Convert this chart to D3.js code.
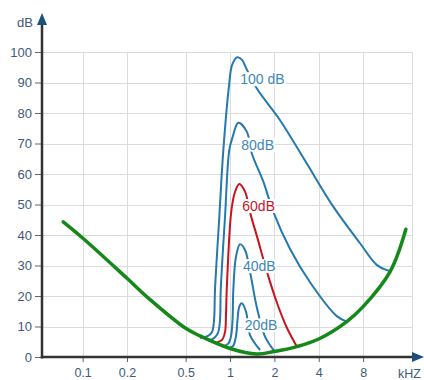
<!DOCTYPE html>
<html>
<head>
<meta charset="utf-8">
<script src="https://cdn.jsdelivr.net/npm/d3@7"></script>
<style>
  html, body { margin: 0; padding: 0; background: #fff; }
  svg { display: block; font-family: Arial, "Liberation Sans", sans-serif; }
</style>
</head>
<body>
<svg id="chart" width="424" height="380"></svg>
<script>
// Frequency axis (kHz, log) and level axis (dB)
const freqTicks = [0.1, 0.2, 0.5, 1, 2, 4, 8];
const freqTickLabels = ["0.1", "0.2", "0.5", "1", "2", "4", "8"];
const dbTicks = [0, 10, 20, 30, 40, 50, 60, 70, 80, 90, 100];
const freqDomain = [0.053, 17.17];
const dbDomain = [0, 100];

// Threshold of hearing in quiet: [kHz, dB]
const thresholdCurve = [
  [0.0738, 44.3], [0.1, 39], [0.2, 25.8], [0.287, 18.8], [0.5, 9.4],
  [0.626, 6.9], [1.0, 2.8], [1.52, 1.0], [2.0, 1.8], [2.84, 3.4],
  [4.0, 5.9], [6.2, 11.6], [8.0, 16.5], [12.2, 28], [15.6, 41.9]
];

// Masking thresholds of a ~1 kHz masker at several levels: [kHz, dB]
const masking100 = [
  [0.626, 6.2], [0.709, 6.9], [0.755, 8.2], [0.779, 12.1], [0.791, 22],
  [0.846, 46], [0.901, 67.9], [0.989, 89.8], [1.032, 95.7], [1.12, 98.3],
  [1.206, 97.4], [1.284, 94.8], [1.517, 88.1], [2.18, 77.7], [3.31, 63.5],
  [5.02, 49.3], [7.62, 37.3], [9.89, 30.2], [11.6, 28.5], [12.2, 28.3]
];
const masking80 = [
  [0.715, 5.4], [0.779, 6.2], [0.829, 7.9], [0.855, 12.1], [0.865, 22],
  [0.925, 46], [0.989, 67.9], [1.043, 72.2], [1.138, 76.8], [1.30, 73.9],
  [1.404, 66.8], [1.683, 57.5], [1.97, 47.5], [2.55, 35.5], [3.49, 24.5],
  [5.3, 13.4], [6.2, 11.6]
];
const masking60 = [
  [0.791, 4.6], [0.882, 5.6], [0.925, 8.2], [0.939, 13.8], [0.95, 22],
  [1.011, 46], [1.048, 51.5], [1.081, 54.1], [1.156, 56.7], [1.264, 54.2],
  [1.382, 46.6], [1.548, 38.4], [1.782, 27.9], [2.084, 17.7], [2.436, 9.5],
  [2.85, 3.3]
];
const masking40 = [
  [0.878, 3.4], [0.969, 4.3], [1.016, 6.9], [1.04, 12.1], [1.053, 22],
  [1.098, 32.9], [1.169, 37], [1.264, 35.1], [1.38, 26.9], [1.517, 16.5],
  [1.728, 6.7], [2.02, 1.7]
];
const masking20 = [
  [0.969, 2.8], [1.048, 3.6], [1.098, 6.9], [1.124, 12.1], [1.156, 16.5],
  [1.2, 17.6], [1.284, 14.9], [1.367, 7.2], [1.6, 2.3]
];
const maskingSeries = [masking100, masking80, masking60, masking40, masking20];
const maskingLabels = ["100 dB", "80dB", "60dB", "40dB", "20dB"];
const maskingColors = ["#2479ae", "#2479ae", "#c8141e", "#2479ae", "#2479ae"];
const labelColors = ["#3b87b9", "#3b87b9", "#c8141e", "#3b87b9", "#3b87b9"];

const svg = d3.select("#chart");

const x = d3.scaleLog().domain(freqDomain).range([42, 412]);
const y = d3.scaleLinear().domain(dbDomain).range([357, 52]);

// Grid
const grid = svg.append("g").attr("stroke", "#dcdcdc").attr("stroke-width", 1);
grid.selectAll("line.h").data(dbTicks.filter(d => d > 0)).join("line")
  .attr("x1", x(freqDomain[0])).attr("x2", x(freqDomain[1]))
  .attr("y1", d => Math.round(y(d)) + 0.5).attr("y2", d => Math.round(y(d)) + 0.5);
grid.selectAll("line.v").data(freqTicks.concat([freqDomain[1]])).join("line")
  .attr("x1", d => Math.round(x(d)) + 0.5).attr("x2", d => Math.round(x(d)) + 0.5)
  .attr("y1", y(dbDomain[1])).attr("y2", y(0));

const line = d3.line()
  .x(d => x(d[0])).y(d => y(d[1]))
  .curve(d3.curveCatmullRom.alpha(0.5));

// Masking curves
svg.append("g").selectAll("path").data(maskingSeries).join("path")
  .attr("d", line)
  .attr("fill", "none")
  .attr("stroke", (d, i) => maskingColors[i])
  .attr("stroke-width", 2)
  .attr("stroke-linejoin", "round");

// Threshold in quiet
svg.append("path")
  .attr("d", line(thresholdCurve))
  .attr("fill", "none")
  .attr("stroke", "#14891a")
  .attr("stroke-width", 3.5)
  .attr("stroke-linecap", "round");

// Level labels, placed just below each curve's peak
const labels = svg.append("g").attr("font-size", 14);
maskingSeries.forEach((s, i) => {
  const peak = s.reduce((a, b) => (b[1] > a[1] ? b : a));
  const lx = x(peak[0]) + 3;
  const ly = y(peak[1]) + 27;
  const g = labels.append("g");
  const t = g.append("text")
    .attr("x", lx).attr("y", ly)
    .attr("fill", labelColors[i])
    .text(maskingLabels[i]);
  const bb = t.node().getBBox();
  g.insert("rect", "text")
    .attr("x", bb.x - 1).attr("y", bb.y + 1)
    .attr("width", bb.width + 2).attr("height", bb.height - 2)
    .attr("fill", "#fff");
});

// Axes
const axisColor = "#333";
const arrowColor = "#1d4f7b";
const tickColor = "#3d5a7a";

const yAxis = d3.axisLeft(y).tickValues(dbTicks).tickSize(7).tickPadding(3);
const gy = svg.append("g").attr("transform", "translate(42,0)").call(yAxis);
gy.select(".domain").remove();
gy.selectAll(".tick line").attr("stroke", "#666").attr("stroke-width", 1);
gy.selectAll(".tick text").attr("fill", tickColor).attr("font-size", 13)
  .attr("font-family", "Arial, 'Liberation Sans', sans-serif");

const xAxis = d3.axisBottom(x).tickValues(freqTicks)
  .tickFormat((d, i) => freqTickLabels[i]).tickSize(5).tickPadding(6);
const gx = svg.append("g").attr("transform", "translate(0,357)").call(xAxis);
gx.select(".domain").remove();
gx.selectAll(".tick line").attr("stroke", "#666").attr("stroke-width", 1);
gx.selectAll(".tick text").attr("fill", tickColor).attr("font-size", 12.5)
  .attr("font-family", "Arial, 'Liberation Sans', sans-serif");

// Axis lines with arrows
svg.append("line").attr("x1", 42).attr("x2", 42).attr("y1", 358.5).attr("y2", 20)
  .attr("stroke", axisColor).attr("stroke-width", 2.5);
svg.append("line").attr("x1", 40.8).attr("x2", 416).attr("y1", 357).attr("y2", 357)
  .attr("stroke", axisColor).attr("stroke-width", 2.5);
svg.append("path").attr("d", "M42,13 L37,25 L47,25 Z").attr("fill", arrowColor);
svg.append("path").attr("d", "M424,357 L412,352 L412,362 Z").attr("fill", arrowColor);

svg.append("text").attr("x", 33).attr("y", 27).attr("text-anchor", "end")
  .attr("font-size", 13).attr("fill", tickColor).text("dB");
svg.append("text").attr("x", 421).attr("y", 378).attr("text-anchor", "end")
  .attr("font-size", 12.5).attr("fill", tickColor).text("kHZ");
</script>
</body>
</html>
